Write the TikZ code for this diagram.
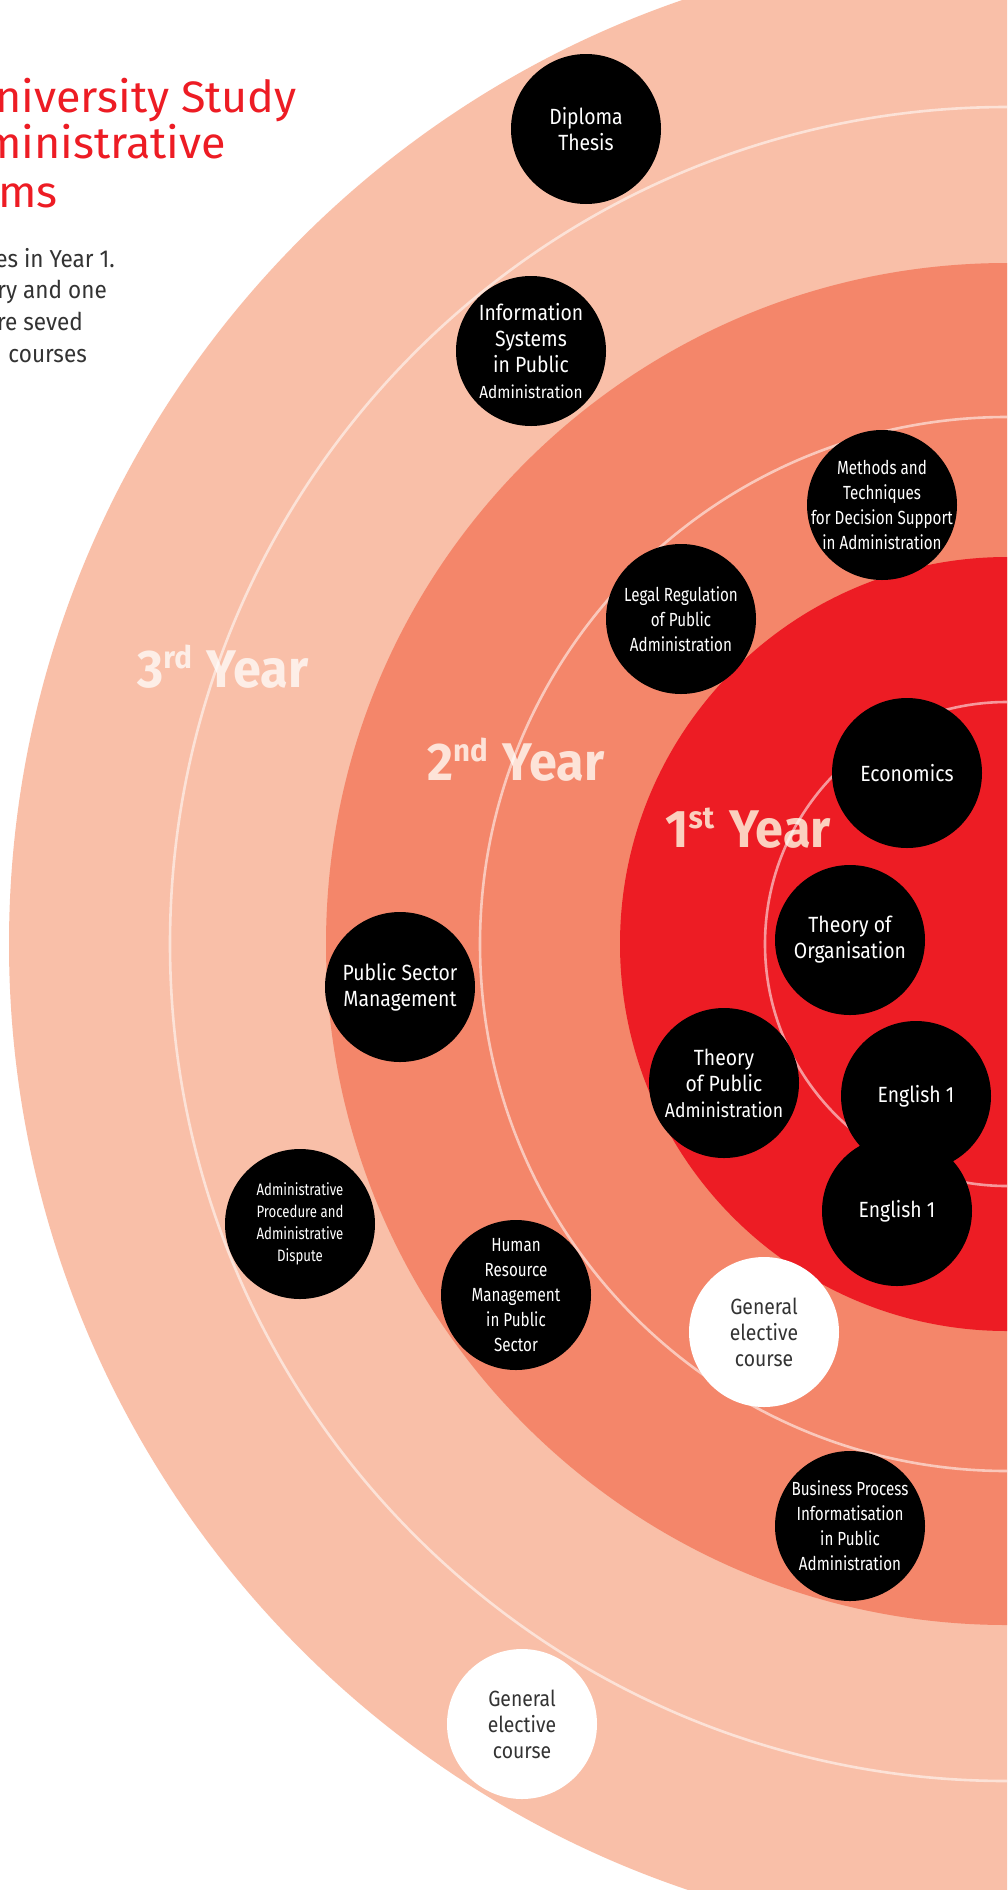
\documentclass[tikz,border=0pt]{standalone}
\usepackage{fontspec}
\newfontfamily\nodefont{Fira Sans}[FakeStretch=0.8]
\newfontfamily\bignodefont{Fira Sans}[FakeStretch=0.88]
\newfontfamily\titlefont{Fira Sans}[FakeStretch=1.02]
\newfontfamily\bodyfont{Fira Sans}[FakeStretch=0.92]
\newfontfamily\yearfont{Fira Sans}[FakeStretch=0.95]
\definecolor{peach}{HTML}{F9BFA8}
\definecolor{salmon}{HTML}{F4866A}
\definecolor{redc}{HTML}{ED1C24}
\definecolor{bodygray}{HTML}{333333}
\definecolor{yr3}{HTML}{FDEEE7}
\definecolor{yr2}{HTML}{FDE3D8}
\definecolor{yr1}{HTML}{FBD0BF}
\tikzset{
  ringline/.style={line width=2.6pt, white, opacity=0.55},
  bnode/.style={circle, fill=black, minimum size=150pt, inner sep=0pt},
  wnode/.style={circle, fill=white, minimum size=150pt, inner sep=0pt},
  btxt/.style={text=white, align=center, inner sep=0pt},
  wtxt/.style={text=bodygray, align=center, inner sep=0pt},
  fbig/.style={font=\bignodefont\fontsize{22}{26}\selectfont},
  fmid/.style={font=\nodefont\fontsize{19}{25}\selectfont},
  fsmall/.style={font=\nodefont\fontsize{16.5}{22}\selectfont},
  yearlbl/.style={anchor=base west, inner sep=0pt, font=\yearfont\bfseries\fontsize{53}{53}\selectfont},
  titletxt/.style={anchor=base east, inner sep=0pt, text=redc, font=\titlefont\fontsize{44}{47}\selectfont},
  bodytxt/.style={anchor=base east, inner sep=0pt, text=bodygray, font=\bodyfont\fontsize{24.5}{32}\selectfont}
}
\newcommand{\supx}[1]{{\fontsize{31}{31}\selectfont\raisebox{19pt}{#1}}\hspace{15pt}}
\begin{document}
\begin{tikzpicture}[x=1pt,y=-1pt]
\useasboundingbox (0,0) rectangle (1007,1890);
\clip (0,0) rectangle (1007,1890);
\fill[white] (0,0) rectangle (1007,1890);
% discs
\coordinate (c) at (1007,944);
\fill[peach] (c) circle[radius=998pt];
\fill[salmon] (c) circle[radius=681pt];
\fill[redc] (c) circle[radius=387pt];
% title and body text
\node[titletxt] (t1) at (297,112) {University Study};
\node[titletxt] (t2) at (226,158) {Administrative};
\node[titletxt] (t3) at (58,207) {Programs};
\node[bodytxt] (b1) at (115,267) {courses in Year 1.};
\node[bodytxt] (b2) at (107,298) {mandatory and one};
\node[bodytxt] (b3) at (83,330) {are seved};
\node[bodytxt] (b4) at (87,362) {courses};
% year labels
\node[yearlbl, text=yr3] (y3) at (137,687) {3\supx{rd}Year};
\node[yearlbl, text=yr2] (y2) at (427,780) {2\supx{nd}Year};
\node[yearlbl, text=yr1] (y1) at (665,847) {1\supx{st}Year};
% ring lines
\draw[ringline] (c) circle[radius=837pt];
\draw[ringline] (c) circle[radius=527pt];
\draw[ringline] (c) circle[radius=242pt];
% course nodes
\node[bnode, label={[btxt,fbig]center:Diploma\\Thesis}] (diploma) at (586,129) {};
\node[bnode, label={[btxt,fbig]center:Information\\Systems\\in Public\\{\fontsize{17.5}{25}\selectfont Administration}}] (infosys) at (531,351) {};
\node[bnode, label={[btxt,fmid]center:Methods and\\Techniques\\for Decision Support\\in Administration}] (methods) at (882,505) {};
\node[bnode, label={[btxt,fmid]center:Legal Regulation\\of Public\\Administration}] (legal) at (681,619) {};
\node[bnode, label={[btxt,fbig]center:Economics}] (economics) at (907,773) {};
\node[bnode, label={[btxt,fbig]center:Theory of\\Organisation}] (theoryorg) at (850,940) {};
\node[bnode, label={[btxt,fbig]center:Theory\\of Public\\{\fontsize{20}{26}\selectfont Administration}}] (theorypa) at (724,1083) {};
\node[bnode, label={[btxt,fbig]center:English 1}] (englisha) at (916,1096) {};
\node[bnode, label={[btxt,fbig]center:English 1}] (englishb) at (897,1211) {};
\node[wnode, label={[wtxt,fbig]center:General\\elective\\course}] (gen1) at (764,1332) {};
\node[bnode, label={[btxt,fbig]center:Public Sector\\Management}] (psm) at (400,987) {};
\node[bnode, label={[btxt,fsmall]center:Administrative\\Procedure and\\Administrative\\Dispute}] (adminproc) at (300,1224) {};
\node[bnode, label={[btxt,fmid]center:Human\\Resource\\Management\\in Public\\Sector}] (hrm) at (516,1295) {};
\node[bnode, label={[btxt,fmid]center:Business Process\\Informatisation\\in Public\\Administration}] (busproc) at (850,1526) {};
\node[wnode, label={[wtxt,fbig]center:General\\elective\\course}] (gen2) at (522,1724) {};
\end{tikzpicture}
\end{document}
